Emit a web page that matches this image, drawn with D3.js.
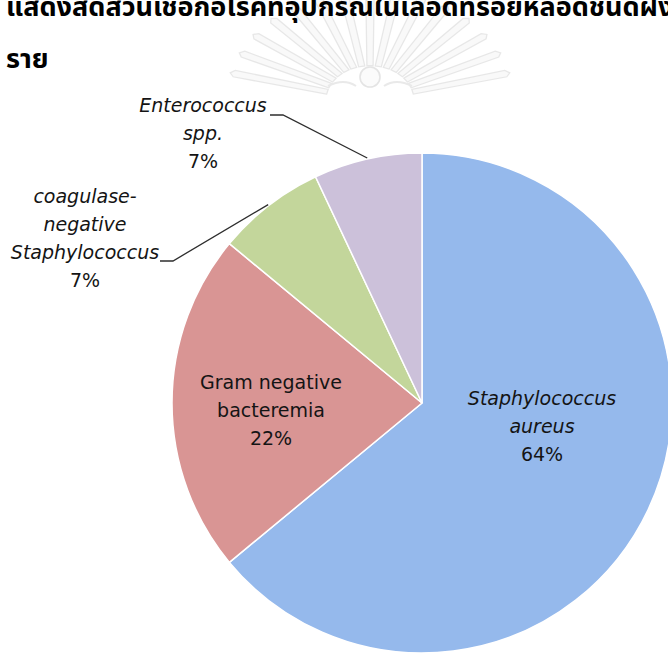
<!DOCTYPE html>
<html>
<head>
<meta charset="utf-8">
<script src="https://cdn.jsdelivr.net/npm/d3@7"></script>
<style>
  html, body { margin: 0; padding: 0; background: #fff; }
  svg { display: block; }
</style>
</head>
<body>
<svg id="chart" width="668" height="654"></svg>
<script>
// Pathogen shares, clockwise from 12 o'clock
const categories = ["Staphylococcus aureus", "Gram negative bacteremia", "coagulase-negative Staphylococcus", "Enterococcus spp."];
const values = [64, 22, 7, 7];
const labelLines = [
  ["Staphylococcus", "aureus"],
  ["Gram negative", "bacteremia"],
  ["coagulase-", "negative", "Staphylococcus"],
  ["Enterococcus", "spp."]
];
const italicLabel = [true, false, true, true];
const colors = ["#95b9ec", "#d99594", "#c3d69b", "#ccc1da"];
const titleLines = ["แสดงสัดส่วนเชื้อก่อโรคที่อุปกรณ์ในเลือดที่ร้อยหลอดชนิดฝังสายจำนวน 14", "ราย"];

// Layout
const cx = 422, cy = 403, radius = 250;
const lineH = 28;
// label block anchor (centre x, first baseline) and optional leader elbow
const labelLayout = [
  { x: 542, y: 405, leader: null },
  { x: 271, y: 389, leader: null },
  { x: 85,  y: 203, leader: { x0: 160, x1: 173, y: 261 } },
  { x: 203, y: 112, leader: { x0: 270, x1: 283, y: 115 } }
];

const svg = d3.select("#chart");

// Faint emblem behind the heading
const emblem = svg.append("g").attr("transform", "translate(370,100)").attr("opacity", 0.42);
const rayAngles = d3.range(15).map(i => 194 + i * (152 / 14));
rayAngles.forEach(a => {
  const t = a * Math.PI / 180;
  const r0 = 44, r1 = 140, w = 0.05;
  const pt = (r, d) => [Math.cos(t + d) * r, Math.sin(t + d) * r * 0.78];
  const p = [pt(r0, -w * 1.4), pt(r1, -w * 0.6), pt(r1 + 4, 0), pt(r1, w * 0.6), pt(r0, w * 1.4)];
  emblem.append("path")
    .attr("d", "M" + p.map(q => q.join(",")).join("L") + "Z")
    .attr("fill", "#f3f3f3")
    .attr("stroke", "#c8c8c8")
    .attr("stroke-width", 1.3);
});
emblem.append("circle").attr("cx", 0).attr("cy", -23).attr("r", 10)
  .attr("fill", "#f6f6f6").attr("stroke", "#c0c0c0").attr("stroke-width", 1.6);
emblem.append("path").attr("d", "M-42,-14 Q-26,-22 -14,-14 M14,-14 Q26,-22 42,-14")
  .attr("fill", "none").attr("stroke", "#cccccc").attr("stroke-width", 2);

// Heading
svg.append("g").selectAll("text")
  .data(titleLines)
  .join("text")
  .attr("x", 6)
  .attr("y", (d, i) => 16 + i * 52)
  .attr("font-family", "Tahoma, 'Noto Sans Thai', 'DejaVu Sans', sans-serif")
  .attr("font-weight", "bold")
  .attr("font-size", 27)
  .attr("fill", "#000")
  .text(d => d);

// Pie
const pie = d3.pie().sort(null).value(d => d).startAngle(0).endAngle(2 * Math.PI);
const arcs = pie(values);
const arc = d3.arc().innerRadius(0).outerRadius(radius);

const g = svg.append("g").attr("transform", `translate(${cx},${cy})`);
g.selectAll("path.slice")
  .data(arcs)
  .join("path")
  .attr("class", "slice")
  .attr("d", arc)
  .attr("fill", (d, i) => colors[i])
  .attr("stroke", "#ffffff")
  .attr("stroke-width", 1.5);

// Leader lines from outer edge at each slice's mid angle
arcs.forEach((d, i) => {
  const L = labelLayout[i].leader;
  if (!L) return;
  const mid = (d.startAngle + d.endAngle) / 2;
  const ex = cx + Math.sin(mid) * (radius + 1);
  const ey = cy - Math.cos(mid) * (radius + 1);
  svg.append("path")
    .attr("d", `M${L.x0},${L.y}L${L.x1},${L.y}L${ex},${ey}`)
    .attr("fill", "none")
    .attr("stroke", "#2e2e2e")
    .attr("stroke-width", 1.3);
});

// Labels: name lines + percentage
const fmt = v => d3.format("d")(v) + "%";
arcs.forEach((d, i) => {
  const lay = labelLayout[i];
  const t = svg.append("text")
    .attr("text-anchor", "middle")
    .attr("font-family", "'DejaVu Sans', Tahoma, sans-serif")
    .attr("font-size", 19)
    .attr("fill", "#141414");
  labelLines[i].forEach((ln, k) => {
    t.append("tspan")
      .attr("x", lay.x)
      .attr("y", lay.y + k * lineH)
      .attr("font-style", italicLabel[i] ? "italic" : "normal")
      .text(ln);
  });
  t.append("tspan")
    .attr("x", lay.x)
    .attr("y", lay.y + labelLines[i].length * lineH)
    .text(fmt(d.data));
});
</script>
</body>
</html>
